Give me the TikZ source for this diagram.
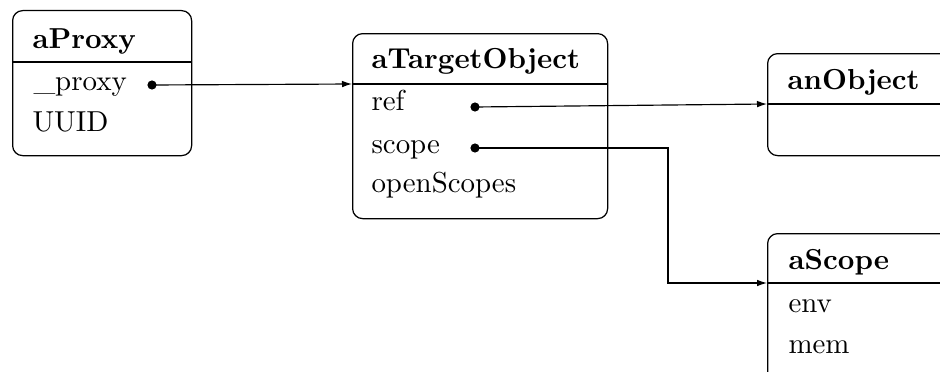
\documentclass[tikz,border=0pt]{standalone}
\usetikzlibrary{arrows.meta}
\begin{document}
\begin{tikzpicture}[x=0.36pt,y=-0.36pt,
  font=\fontsize{10.4pt}{12.5pt}\selectfont,
  box/.style={draw, rounded corners=3.6pt, anchor=north west, inner sep=0pt, line width=0.45pt},
  hdr/.style={line width=0.45pt},
  title/.style={anchor=base west, font=\fontsize{10.4pt}{12.5pt}\selectfont\bfseries, inner sep=0pt},
  field/.style={anchor=base west, inner sep=0pt},
  dotmark/.style={circle, fill, inner sep=0pt, minimum size=3.3pt},
  conn/.style={line width=0.42pt, -{Latex[length=3.6pt,width=2.4pt]}}]
\useasboundingbox (0,0) rectangle (940,372);
\clip (0,0) rectangle (940,372);
% boxes
\node[box, minimum width=179*0.36pt, minimum height=145*0.36pt] (proxy) at (12,10) {};
\node[box, minimum width=255*0.36pt, minimum height=185*0.36pt] (tgt) at (352,33) {};
\node[box, minimum width=250*0.36pt, minimum height=102*0.36pt] (obj) at (767,53) {};
\node[box, minimum width=250*0.36pt, minimum height=200*0.36pt] (scp) at (767,233) {};
% header lines
\coordinate (proxyHL) at (12,62);  \coordinate (proxyHR) at (191,62);
\coordinate (tgtHL) at (352,84);   \coordinate (tgtHR) at (607,84);
\coordinate (objHL) at (767,104);  \coordinate (objHR) at (1017,104);
\coordinate (scpHL) at (767,283);  \coordinate (scpHR) at (1017,283);
\draw[hdr] (proxyHL) -- (proxyHR);
\draw[hdr] (tgtHL) -- (tgtHR);
\draw[hdr] (objHL) -- (objHR);
\draw[hdr] (scpHL) -- (scpHR);
% texts
\node[title] (proxyT) at (32,48) {aProxy};
\node[field] (proxyF1) at (33,91) {\_proxy};
\node[field] (proxyF2) at (32,132) {UUID};
\node[title] (tgtT) at (371,68) {aTargetObject};
\node[field] (tgtF1) at (371,111) {ref};
\node[field] (tgtF2) at (371,153) {scope};
\node[field] (tgtF3) at (371,193) {openScopes};
\node[title] (objT) at (787,90) {anObject};
\node[title] (scpT) at (788,270) {aScope};
\node[field] (scpF1) at (788,312) {env};
\node[field] (scpF2) at (788,353) {mem};
% dots
\node[dotmark] (pdot) at (152,85) {};
\node[dotmark] (rdot) at (475,107) {};
\node[dotmark] (sdot) at (475,148) {};
\coordinate (bend) at (668,283);
% connectors
\draw[conn] (pdot.center) -- (tgtHL);
\draw[conn] (rdot.center) -- (objHL);
\draw[conn] (sdot.center) -| (bend) -- (scpHL);
\end{tikzpicture}
\end{document}
